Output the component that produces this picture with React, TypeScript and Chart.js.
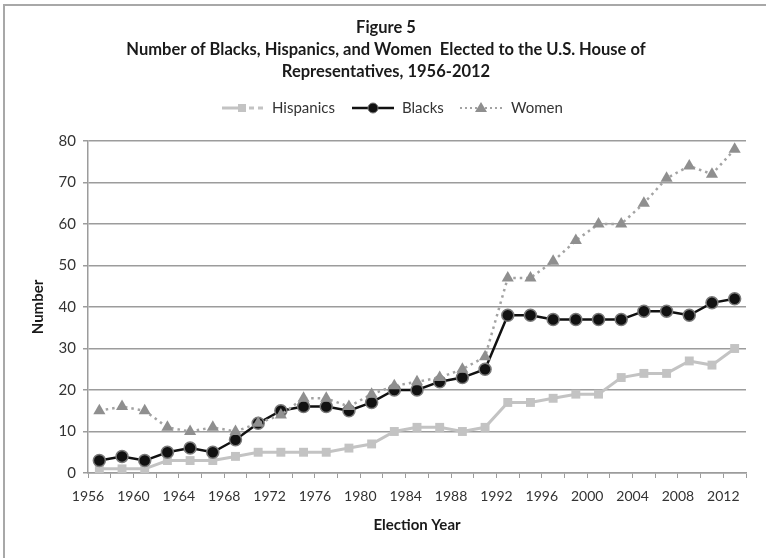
import React, { useEffect, useRef } from "react";
import { Chart, registerables } from "chart.js";

Chart.register(...registerables);

const years = [1957, 1959, 1961, 1963, 1965, 1967, 1969, 1971, 1973, 1975, 1977, 1979, 1981, 1983, 1985, 1987, 1989, 1991, 1993, 1995, 1997, 1999, 2001, 2003, 2005, 2007, 2009, 2011, 2013];
const hispanics = [1, 1, 1, 3, 3, 3, 4, 5, 5, 5, 5, 6, 7, 10, 11, 11, 10, 11, 17, 17, 18, 19, 19, 23, 24, 24, 27, 26, 30];
const blacks = [3, 4, 3, 5, 6, 5, 8, 12, 15, 16, 16, 15, 17, 20, 20, 22, 23, 25, 38, 38, 37, 37, 37, 37, 39, 39, 38, 41, 42];
const women = [15, 16, 15, 11, 10, 11, 10, 12, 14, 18, 18, 16, 19, 21, 22, 23, 25, 28, 47, 47, 51, 56, 60, 60, 65, 71, 74, 72, 78];

const titleLines = ["Figure 5", "Number of Blacks, Hispanics, and Women  Elected to the U.S. House of", "Representatives, 1956-2012"];
const seriesNames = ["Hispanics", "Blacks", "Women"];
const xTitle = "Election Year";
const yTitle = "Number";

const FONT = "Lato, 'Open Sans', sans-serif";
const HISP_COLOR = "#c3c3c3";
const BLACK_COLOR = "#111111";
const WOMEN_COLOR = "#8f8f8f";
const WOMEN_LINE = "#a3a3a3";
const GRID = "#9c9c9c";

const decorPlugin = {
  id: "decor",
  beforeDraw(chart: any) {
    const ctx = chart.ctx;
    ctx.save();
    ctx.fillStyle = "#ffffff";
    ctx.fillRect(0, 0, chart.width, chart.height);
    ctx.strokeStyle = "#a8a8a8";
    ctx.lineWidth = 2;
    ctx.strokeRect(4, 5, 900, 700);
    ctx.restore();
  },
  afterDraw(chart: any) {
    const ctx = chart.ctx;
    ctx.save();
    // title
    ctx.fillStyle = "#1a1a1a";
    ctx.textAlign = "center";
    ctx.textBaseline = "middle";
    ctx.font = `bold 16.5px ${FONT}`;
    const ty = [28, 50, 72];
    titleLines.forEach((t, i) => ctx.fillText(t, 386, ty[i]));

    // legend
    const ly = 108;
    ctx.font = `15px ${FONT}`;
    ctx.textAlign = "left";
    ctx.fillStyle = "#333333";
    // Hispanics
    ctx.strokeStyle = HISP_COLOR;
    ctx.lineWidth = 3;
    ctx.beginPath();
    ctx.moveTo(222, ly); ctx.lineTo(240, ly);
    ctx.moveTo(249, ly); ctx.lineTo(254, ly);
    ctx.moveTo(258, ly); ctx.lineTo(263, ly);
    ctx.stroke();
    ctx.fillStyle = HISP_COLOR;
    ctx.fillRect(238, ly - 4, 8, 8);
    ctx.fillStyle = "#333333";
    ctx.fillText(seriesNames[0], 272, ly);
    // Blacks
    ctx.strokeStyle = BLACK_COLOR;
    ctx.lineWidth = 2.5;
    ctx.beginPath();
    ctx.moveTo(352, ly); ctx.lineTo(394, ly);
    ctx.stroke();
    ctx.beginPath();
    ctx.arc(373, ly, 5, 0, Math.PI * 2);
    ctx.fillStyle = BLACK_COLOR;
    ctx.fill();
    ctx.lineWidth = 1;
    ctx.strokeStyle = "#777777";
    ctx.stroke();
    ctx.fillStyle = "#333333";
    ctx.fillText(seriesNames[1], 402, ly);
    // Women
    ctx.strokeStyle = WOMEN_LINE;
    ctx.lineWidth = 2;
    ctx.setLineDash([2, 3]);
    ctx.beginPath();
    ctx.moveTo(460, ly); ctx.lineTo(503, ly);
    ctx.stroke();
    ctx.setLineDash([]);
    ctx.fillStyle = WOMEN_COLOR;
    ctx.beginPath();
    ctx.moveTo(481, ly - 6);
    ctx.lineTo(487, ly + 4);
    ctx.lineTo(475, ly + 4);
    ctx.closePath();
    ctx.fill();
    ctx.fillStyle = "#333333";
    ctx.fillText(seriesNames[2], 511, ly);
    ctx.restore();
  },
};

export default function App() {
  const ref = useRef<HTMLCanvasElement | null>(null);
  useEffect(() => {
    if (!ref.current) return;
    const mk = (vals: number[]) => years.map((x, i) => ({ x, y: vals[i] }));
    const chart = new Chart(ref.current, {
      type: "line",
      data: {
        datasets: [
          {
            label: seriesNames[0],
            data: mk(hispanics),
            borderColor: HISP_COLOR,
            backgroundColor: HISP_COLOR,
            borderWidth: 3,
            pointStyle: "rect",
            pointRadius: 6.3,
            pointBorderWidth: 0,
            pointBackgroundColor: HISP_COLOR,
            order: 2,
          },
          {
            label: seriesNames[1],
            data: mk(blacks),
            borderColor: BLACK_COLOR,
            backgroundColor: BLACK_COLOR,
            borderWidth: 2.5,
            pointStyle: "circle",
            pointRadius: 6,
            pointBorderWidth: 1.5,
            pointBorderColor: "#7a7a7a",
            pointBackgroundColor: BLACK_COLOR,
            order: 1,
          },
          {
            label: seriesNames[2],
            data: mk(women),
            borderColor: WOMEN_LINE,
            backgroundColor: WOMEN_COLOR,
            borderWidth: 2.5,
            borderDash: [2.5, 4],
            pointStyle: "triangle",
            pointRadius: 7,
            pointBorderWidth: 0,
            pointBackgroundColor: WOMEN_COLOR,
            order: 0,
          },
        ],
      },
      options: {
        responsive: false,
        animation: false,
        devicePixelRatio: 1,
        layout: { padding: { top: 141, right: 20, left: 0, bottom: 0 } },
        plugins: {
          legend: { display: false },
          title: { display: false },
          tooltip: { enabled: false },
        },
        scales: {
          x: {
            type: "linear",
            min: 1956,
            max: 2014,
            afterFit: (s: any) => { s.height = 85; },
            ticks: {
              stepSize: 2,
              autoSkip: false,
              maxRotation: 0,
              padding: 10,
              color: "#333333",
              font: { family: FONT, size: 14 },
              callback: (v: any) => ((Number(v) - 1956) % 4 === 0 ? String(v) : ""),
            },
            grid: { drawOnChartArea: false, drawTicks: true, tickLength: 5, color: GRID, lineWidth: 1 },
            border: { color: GRID, width: 1.5 },
            title: {
              display: true,
              text: xTitle,
              color: "#1a1a1a",
              font: { family: FONT, size: 15, weight: "bold" },
              padding: { top: 0, bottom: 24 },
            },
          },
          y: {
            min: 0,
            max: 80,
            afterFit: (s: any) => { s.width = 88; },
            ticks: {
              stepSize: 10,
              padding: 7,
              color: "#333333",
              font: { family: FONT, size: 15 },
            },
            grid: { color: GRID, lineWidth: 1.5, drawTicks: true, tickLength: 5 },
            border: { color: GRID, width: 1.5 },
            title: {
              display: true,
              text: yTitle,
              color: "#1a1a1a",
              font: { family: FONT, size: 15, weight: "bold" },
              padding: { top: 29, bottom: 0 },
            },
          },
        },
      },
      plugins: [decorPlugin],
    } as any);
    return () => chart.destroy();
  }, []);
  return (
    <div style={{ position: "fixed", left: 0, top: 0, width: 766, height: 558, overflow: "hidden" }}>
      <canvas ref={ref} width={766} height={558} style={{ display: "block" }} />
    </div>
  );
}
